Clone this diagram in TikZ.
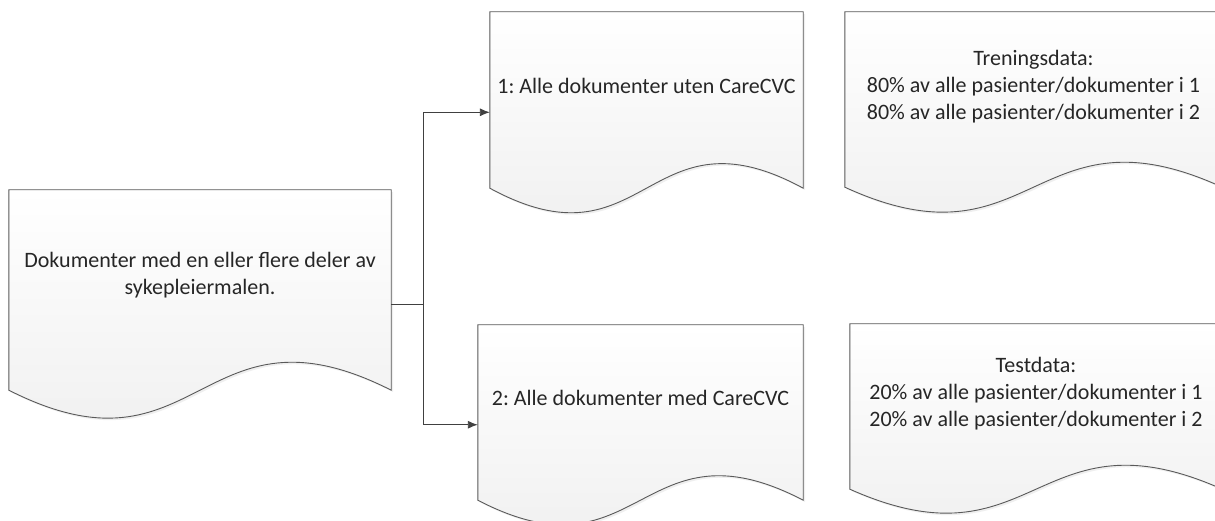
\documentclass[tikz,border=0pt]{standalone}
\usepackage{fontspec}
\setmainfont{Carlito}
\frenchspacing
\usetikzlibrary{arrows.meta,backgrounds,shadows}

\tikzset{
  doc/.style={inner sep=0pt, font=\fontsize{22}{27}\selectfont, text=black!85},
  docline/.style={draw=black!65, line width=0.9pt, top color=white, bottom color=black!7,
    drop shadow={opacity=0.12, shadow xshift=2pt, shadow yshift=-2pt}},
  link/.style={draw=black!75, line width=0.9pt},
  arrow/.style={link, -{Latex[length=10pt,width=8pt]}}
}

% text sits in the upper part of the page
\newcommand\doctext[2]{\raisebox{#1}[\height][\depth]{\begin{tabular}{@{}c@{}}#2\end{tabular}}}
% page with wavy bottom, #2 = wave height
\newcommand\docoutline[2]{%
  \path[docline] (#1.north west) -- (#1.north east) -- ([yshift=#2]#1.south east)
    .. controls ([yshift=4.46*#2]#1.south) and ([yshift=-2.46*#2]#1.south)
    .. ([yshift=#2]#1.south west) -- cycle;}

\begin{document}
\begin{tikzpicture}[x=1pt,y=1pt]
  \useasboundingbox (0,0) rectangle (1215,521);

  \node[doc, minimum width=382pt, minimum height=228pt] (alle) at (200,217)
    {\doctext{28pt}{Dokumenter med en eller flere deler av\\sykepleiermalen.}};
  \node[doc, minimum width=313pt, minimum height=200.6pt] (uten) at (646.5,408.7)
    {\doctext{24.6pt}{1: Alle dokumenter uten CareCVC}};
  \node[doc, minimum width=325pt, minimum height=199.5pt] (med) at (640.5,96.25)
    {\doctext{24.5pt}{2: Alle dokumenter med CareCVC}};
  \node[doc, minimum width=377pt, minimum height=200pt] (trening) at (1033.5,409)
    {\doctext{25pt}{Treningsdata:\\80\% av alle pasienter/dokumenter i 1\\80\% av alle pasienter/dokumenter i 2}};
  \node[doc, minimum width=372pt, minimum height=189pt] (test) at (1036,102.5)
    {\doctext{24pt}{Testdata:\\20\% av alle pasienter/dokumenter i 1\\20\% av alle pasienter/dokumenter i 2}};

  \begin{pgfonlayer}{background}
    \begin{scope}
      \clip (0,0) rectangle (1215,521);
      \fill[white] (0,0) rectangle (1215,521);
      \foreach \n/\a in {alle/28pt, uten/24.6pt, med/24.5pt, trening/25pt, test/24pt}
        \docoutline{\n}{\a};
    \end{scope}
  \end{pgfonlayer}

  \coordinate (split) at ([xshift=32pt]alle.east);
  \draw[link] (alle.east) -- (split);
  \draw[arrow] (split) |- (uten.west);
  \draw[arrow] (split) |- (med.west);
\end{tikzpicture}
\end{document}
